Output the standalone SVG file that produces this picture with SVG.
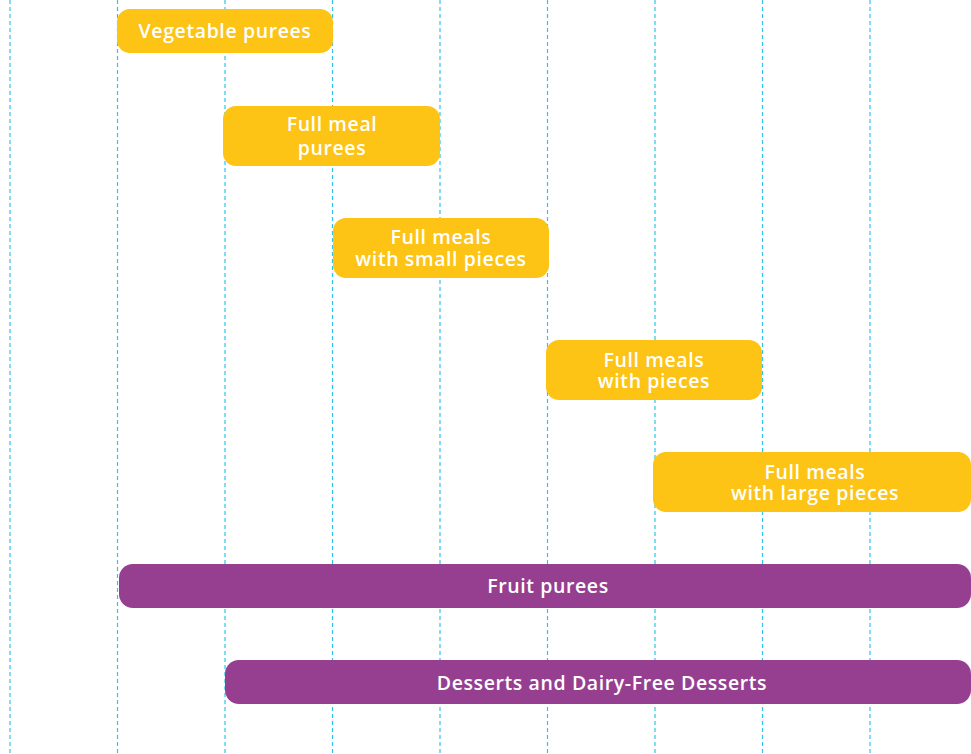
<svg xmlns="http://www.w3.org/2000/svg" width="971" height="754" viewBox="0 0 971 754">
<style>
.grid line{stroke:#2ec4ee;stroke-width:1.2;stroke-dasharray:4 3}
.y{fill:#fdc315}
.p{fill:#963f91}
text{font-family:"Open Sans","Liberation Sans",sans-serif;font-weight:600;font-size:19.5px;letter-spacing:0.6px;fill:#fff;text-anchor:middle}
</style>
<rect width="971" height="754" fill="#fff"/>
<g id="connectors" class="grid">
<line x1="10" y1="0" x2="10" y2="754"/>
<line x1="117.5" y1="0" x2="117.5" y2="754"/>
<line x1="225" y1="0" x2="225" y2="754"/>
<line x1="332.5" y1="0" x2="332.5" y2="754"/>
<line x1="440" y1="0" x2="440" y2="754"/>
<line x1="547.5" y1="0" x2="547.5" y2="754"/>
<line x1="655" y1="0" x2="655" y2="754"/>
<line x1="762.5" y1="0" x2="762.5" y2="754"/>
<line x1="870" y1="0" x2="870" y2="754"/>
</g>
<g id="veg"><rect class="y" x="117" y="9" width="216" height="44" rx="13"/><text x="225" y="38">Vegetable purees</text></g>
<g id="fullmeal"><rect class="y" x="223" y="106" width="217" height="60" rx="13"/><text x="332" y="131">Full meal</text><text x="332" y="155">purees</text></g>
<g id="small"><rect class="y" x="333" y="218" width="216" height="60" rx="13"/><text x="441" y="244">Full meals</text><text x="441" y="266">with small pieces</text></g>
<g id="pieces"><rect class="y" x="546" y="340" width="216" height="60" rx="13"/><text x="654" y="367">Full meals</text><text x="654" y="388">with pieces</text></g>
<g id="large"><rect class="y" x="653" y="452" width="318" height="60" rx="13"/><text x="815" y="479">Full meals</text><text x="815" y="500">with large pieces</text></g>
<g id="fruit"><rect class="p" x="119" y="564" width="852" height="44" rx="14"/><text x="548" y="593">Fruit purees</text></g>
<g id="desserts"><rect class="p" x="225" y="660" width="746" height="44" rx="14"/><text x="602" y="690">Desserts and Dairy-Free Desserts</text></g>
</svg>
